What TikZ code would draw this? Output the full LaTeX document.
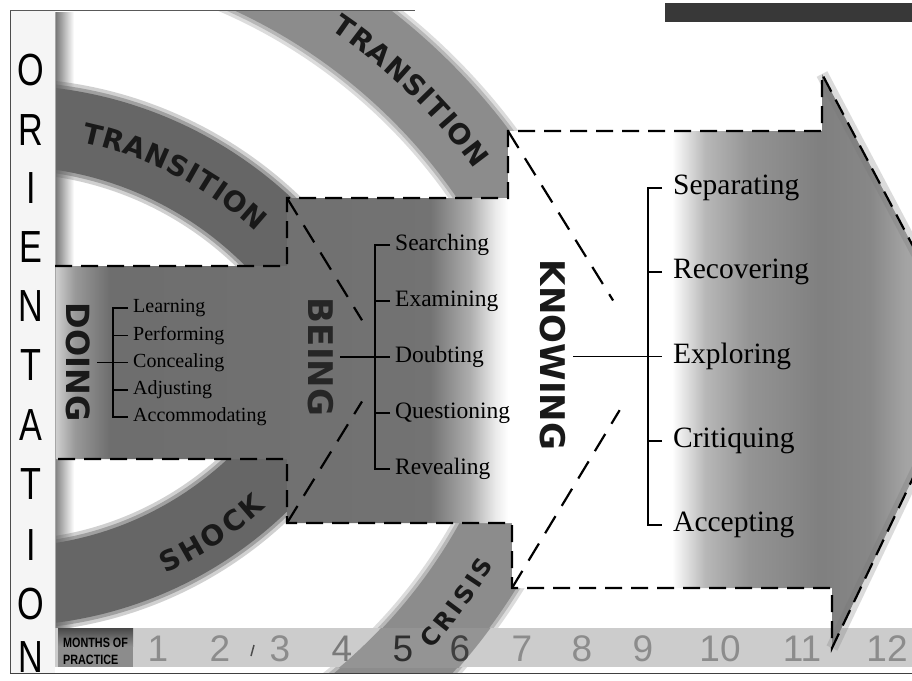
\documentclass[tikz,border=0pt]{standalone}
\usepackage{fontspec}
\setmainfont{Liberation Serif}
\newfontfamily\dvs{DejaVu Sans}
\newfontfamily\lsans{Liberation Sans}
\usetikzlibrary{calc}

% grey body of the DOING/BEING arrows: light at the far left, dark in the middle, white at the right
\pgfdeclarehorizontalshading{bodyshade}{100bp}{color(0bp)=(black!18); color(25bp)=(black!18); color(27.2bp)=(black!40); color(31.1bp)=(black!57); color(66.4bp)=(black!55); color(70.8bp)=(black!32); color(73.6bp)=(black!8); color(75bp)=(white); color(100bp)=(white)}
% KNOWING arrow: white on the left, grey towards the head
\pgfdeclarehorizontalshading{knowshade}{100bp}{color(0bp)=(white); color(25bp)=(white); color(42.7bp)=(white); color(46.3bp)=(black!28); color(51.1bp)=(black!42); color(58.7bp)=(black!50); color(64.1bp)=(black!47); color(67.9bp)=(black!36); color(75bp)=(black!30); color(100bp)=(black!30)}

% letters set one by one on a circle
% #1 name prefix, #2 #3 centre, #4 radius, #5 direction (+1 clockwise, -1 anticlockwise), #6 letter/angle list
\newcommand\arcletters[6]{%
  \foreach \archar/\arcang [count=\arck] in {#6}{%
    \pgfmathsetmacro\arcrot{-(\arcang)-90*(#5)}%
    \node[arcletter, rotate=\arcrot] (#1\arck) at ($(#2,#3)+(\arcang:#4)$) {\archar};}%
}

% grey ring with soft edges: #1 #2 centre, #3 inner radius, #4 outer radius, #5 colour
\newcommand\softring[5]{%
  \pgfmathsetmacro\ringa{#3-6}\pgfmathsetmacro\ringb{#4+6}%
  \pgfmathsetmacro\ringc{#3-2.5}\pgfmathsetmacro\ringd{#4+2.5}%
  \pgfmathsetmacro\ringe{#3+1}\pgfmathsetmacro\ringf{#4-1}%
  \fill[#5, opacity=0.3, even odd rule] (#1,#2) circle[radius=\ringb] (#1,#2) circle[radius=\ringa];%
  \fill[#5, opacity=0.45, even odd rule] (#1,#2) circle[radius=\ringd] (#1,#2) circle[radius=\ringc];%
  \fill[#5, even odd rule] (#1,#2) circle[radius=\ringf] (#1,#2) circle[radius=\ringe];%
}

\begin{document}
\begin{tikzpicture}[x=1pt, y=-1pt,
  outline/.style={line width=2.2pt, dash pattern=on 17pt off 9pt},
  diag/.style={line width=2.2pt, dash pattern=on 20pt off 12pt},
  brk/.style={line width=1.6pt},
  arcletter/.style={font=\dvs\bfseries\fontsize{28}{28}\selectfont, inner sep=0pt, text=black!90},
  smallarc/.style={arcletter/.append style={font=\dvs\bfseries\fontsize{24}{24}\selectfont}},
  orient/.style={font=\lsans\fontsize{45}{45}\selectfont, xscale=0.76, inner sep=0pt},
  month/.style={font=\lsans\fontsize{37}{37}\selectfont, inner sep=0pt},
  bigword/.style={font=\dvs\bfseries\fontsize{#1}{#1}\selectfont, rotate=-90, inner sep=2pt, text=black!90},
  doitem/.style={anchor=west, inner sep=1.5pt, font=\fontsize{20}{22}\selectfont},
  beitem/.style={anchor=west, inner sep=1.5pt, font=\fontsize{23.5}{25}\selectfont},
  knitem/.style={anchor=west, inner sep=1.5pt, font=\fontsize{29.5}{31}\selectfont},
]
\useasboundingbox (0,0) rectangle (912,680);
\begin{scope}
\clip (0,0) rectangle (912,680);
\fill[white] (0,0) rectangle (912,680);

% soft shadows along the left edges of the two white panels
\shade[left color=black!55, right color=white] (55,12) rectangle (74,266);
\shade[left color=black!50, right color=white] (55,459) rectangle (74,628);

% transition rings (upper half) and shock / crisis rings (lower half)
\begin{scope}
  \clip (55,10) rectangle (912,361);
  \softring{5}{505}{338}{421}{black!60}
  \softring{4}{510}{549}{633}{black!45}
\end{scope}
\begin{scope}
  \clip (55,361) rectangle (912,673);
  \softring{4}{219}{327}{408}{black!60}
  \softring{4}{270}{520}{604}{black!45}
\end{scope}

% months strip, darker where the crisis ring crosses it
\fill[black!20] (55,628) rectangle (912,667);
\begin{scope}
  \clip (55,628) rectangle (912,667);
  \fill[black!42, even odd rule] (4,270) circle[radius=604] (4,270) circle[radius=520];
\end{scope}
\fill[black!45] (58,628) rectangle (133,667);
\shade[top color=black!72, bottom color=black!45] (58,628) rectangle (133,646);

% arrow bodies
\shade[shading=bodyshade] (55,266) -- (287,266) -- (287,198) -- (508,198) -- (508,523)
  -- (287,523) -- (287,459) -- (55,459) -- cycle;
\shade[shading=knowshade] (508,131) -- (822,131) -- (822,74) -- (971,356) -- (832,648)
  -- (832,588) -- (512,588) -- (512,523) -- (508,523) -- cycle;
\draw[black!55, line width=12pt, opacity=0.25, line join=round] (822,74) -- (971,356) -- (832,648);

% orientation column and frame
\fill[black!4] (10,10) rectangle (55,673);
\draw[black!70, line width=0.8pt] (10,10) -- (10,673);
\draw[black!35, line width=0.6pt] (55,12) -- (55,628);
\draw[black!65, line width=0.8pt] (10,10) -- (415,10);
\draw[black!75, line width=1pt] (10,673) -- (912,673);
\fill[black!78] (665,3) rectangle (912,22);

% dashed arrow outlines
\draw[outline] (55,266) -- (287,266) -- (287,198) -- (508,198) -- (508,131) -- (822,131) -- (822,74) -- (971,356);
\draw[outline] (58,459) -- (287,459) -- (287,523) -- (512,523) -- (512,588) -- (832,588) -- (832,648) -- (971,356);
\draw[diag] (287,198) -- ($(287,198)!0.75!(387,361)$);
\draw[diag] (287,523) -- ($(287,523)!0.75!(387,361)$);
\draw[diag] (508,131) -- ($(508,131)!0.74!(650,360)$);
\draw[diag] (512,588) -- ($(512,588)!0.78!(650,360)$);

% ring labels
\arcletters{lt}{5}{505}{381}{1}{T/-76.61,R/-73.38,A/-69.97,N/-66.41,S/-62.97,I/-60.46,T/-58.04,I/-55.61,O/-52.84,N/-49.13}
\arcletters{rt}{4}{510}{591}{1}{T/-54.81,R/-52.72,A/-50.52,N/-48.23,S/-46.01,I/-44.40,T/-42.83,I/-41.27,O/-39.48,N/-37.09}
\arcletters{sh}{4}{219}{379}{-1}{S/64.03,H/60.40,O/56.50,C/52.82,K/49.28}
\begin{scope}[smallarc]
\arcletters{cr}{4}{270}{563}{-1}{C/40.70,R/38.55,I/36.85,S/35.20,I/33.55,S/31.90}
\end{scope}

% ORIENTATION
\foreach \ch/\y [count=\i] in {O/70,R/130,I/188,E/247,N/306,T/365,A/425,T/484,I/545,O/604,N/657}
  \node[orient] (or\i) at (31,\y) {\ch};

% months of practice
\node[anchor=west, align=left, inner sep=0pt, xscale=0.8,
      font=\lsans\bfseries\fontsize{13.5}{17}\selectfont] (mop) at (63,651) {MONTHS OF\\PRACTICE};
\foreach \n/\x/\c in {1/158/45,2/220/45,3/280/45,4/342/52,5/403/82,6/460/75,7/522/45,8/582/45,9/643/45,10/720/45,11/802/45,12/887/45}
  \node[month, text=black!\c] (m\n) at (\x,649) {\n};
\draw[black!70, line width=1.5pt] (251,656) -- (254,645);

% DOING
\node[bigword=32] (doing) at (78,362) {DOING};
\foreach \t [count=\i] in {Learning,Performing,Concealing,Adjusting,Accommodating}
  \node[doitem] (do\i) at (131.5,{308+27.3*(\i-1)}) {\t};
\draw[brk, shorten <=3.5pt, shorten >=3.5pt] (do1.west) -- ++(-18.5,0) |- (do5.west);
\foreach \i in {2,4}
  \draw[brk, shorten <=3.5pt] (do\i.west) -- ++(-18.5,0);
\draw[brk, shorten <=5pt, shorten >=3.5pt] (doing.north |- do3.west) -- (do3.west);

% BEING
\node[bigword=34, text=black!85] (being) at (321,357) {BEING};
\foreach \t [count=\i] in {Searching,Examining,Doubting,Questioning,Revealing}
  \node[beitem] (be\i) at (393.5,{245+56*(\i-1)}) {\t};
\draw[brk, shorten <=3.5pt, shorten >=3.5pt] (be1.west) -- ++(-18.5,0) |- (be5.west);
\foreach \i in {2,4}
  \draw[brk, shorten <=3.5pt] (be\i.west) -- ++(-18.5,0);
\draw[brk, shorten <=4pt, shorten >=3.5pt] (being.north |- be3.west) -- (be3.west);

% KNOWING
\node[bigword=34] (knowing) at (553,355) {KNOWING};
\foreach \t [count=\i] in {Separating,Recovering,Exploring,Critiquing,Accepting}
  \node[knitem] (kn\i) at (671.5,{188+84.25*(\i-1)}) {\t};
\draw[brk, shorten <=9.5pt, shorten >=9.5pt] (kn1.west) -- ++(-23.5,0) |- (kn5.west);
\foreach \i in {2,4}
  \draw[brk, shorten <=9.5pt] (kn\i.west) -- ++(-23.5,0);
\draw[line width=1.3pt, shorten <=5pt, shorten >=9.5pt] (knowing.north |- kn3.west) -- (kn3.west);
\end{scope}
\end{tikzpicture}
\end{document}
